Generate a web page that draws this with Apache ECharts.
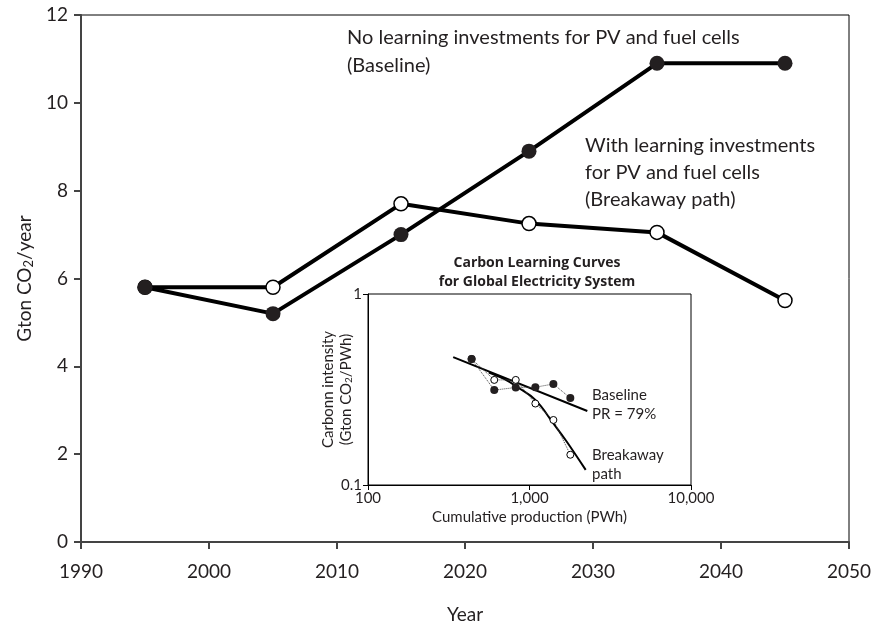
<!DOCTYPE html>
<html>
<head>
<meta charset="utf-8">
<script src="https://cdn.jsdelivr.net/npm/echarts@6/dist/echarts.min.js"></script>
<style>
  html, body { margin: 0; padding: 0; background: #fff; }
  #chart { width: 873px; height: 625px; }
</style>
</head>
<body>
<div id="chart"></div>
<script>
// Annual emissions, Gton CO2/year
const years = [1995, 2005, 2015, 2025, 2035, 2045];
const baselineEmissions = [5.8, 5.2, 7.0, 8.9, 10.9, 10.9];
const breakawayEmissions = [5.8, 5.8, 7.7, 7.25, 7.05, 5.5];

// Inset: carbon intensity vs. cumulative production (PWh, Gton CO2/PWh)
const baselineProduction = [438, 605, 822, 1087, 1406, 1790];
const baselineIntensity = [0.457, 0.314, 0.324, 0.325, 0.338, 0.285];
const breakawayProduction = [438, 605, 822, 1087, 1406, 1790];
const breakawayIntensity = [0.457, 0.355, 0.355, 0.267, 0.219, 0.144];
// Fitted learning curves
const baselineFitProduction = [337, 2280];
const baselineFitIntensity = [0.467, 0.244];
const breakawayFitProduction = [560, 700, 834, 1087, 1406, 1698, 2228];
const breakawayFitIntensity = [0.388, 0.358, 0.327, 0.279, 0.210, 0.169, 0.120];

const FONT = 'Lato, "Open Sans", sans-serif';
const pairs = (xs, ys) => xs.map((x, i) => [x, ys[i]]);

const chart = echarts.init(document.getElementById('chart'));

chart.setOption({
  animation: false,
  backgroundColor: '#fff',
  textStyle: { fontFamily: FONT, color: '#231f20' },
  grid: [
    { left: 81, top: 15, right: 24, bottom: 83, show: true, borderColor: '#000', borderWidth: 1, outerBoundsMode: 'none' },
    { left: 368, top: 294, width: 323, height: 191, show: true, borderColor: '#000', borderWidth: 1, backgroundColor: '#fff', outerBoundsMode: 'none' }
  ],
  xAxis: [
    {
      gridIndex: 0, type: 'value', min: 1990, max: 2050, interval: 10,
      name: 'Year', nameLocation: 'middle', nameGap: 63,
      nameTextStyle: { fontSize: 19, color: '#231f20', fontFamily: FONT },
      axisLine: { lineStyle: { color: '#444', width: 2 } },
      axisTick: { length: 7, lineStyle: { color: '#444', width: 2 } },
      axisLabel: { fontSize: 19, margin: 20, color: '#231f20', formatter: v => String(v) },
      splitLine: { show: false }
    },
    {
      gridIndex: 1, type: 'log', logBase: 10, min: 100, max: 10000,
      name: 'Cumulative production (PWh)', nameLocation: 'middle', nameGap: 25,
      nameTextStyle: { fontSize: 15, color: '#231f20', fontFamily: FONT },
      axisLine: { lineStyle: { color: '#000', width: 1 } },
      axisTick: { length: 5, lineStyle: { color: '#000' } },
      minorTick: { show: false },
      axisLabel: { fontSize: 15, margin: 6, color: '#231f20', formatter: v => Number(v).toLocaleString('en-US') },
      splitLine: { show: false }
    }
  ],
  yAxis: [
    {
      gridIndex: 0, type: 'value', min: 0, max: 12, interval: 2,
      name: '{a|Gton CO}{s|2}{a|/year}', nameLocation: 'middle', nameGap: 46, nameRotate: 90,
      nameTextStyle: {
        rich: {
          a: { fontSize: 19, color: '#231f20', fontFamily: FONT },
          s: { fontSize: 13, color: '#231f20', fontFamily: FONT, padding: [8, 0, 0, 0] }
        }
      },
      axisLine: { lineStyle: { color: '#444', width: 2 } },
      axisTick: { length: 7, lineStyle: { color: '#444', width: 2 } },
      axisLabel: { fontSize: 19, margin: 13, color: '#231f20' },
      splitLine: { show: false }
    },
    {
      gridIndex: 1, type: 'log', logBase: 10, min: 0.1, max: 1,
      name: '{a|Carbonn intensity}\n{a|(Gton CO}{s|2}{a|/PWh)}', nameLocation: 'middle', nameGap: 13, nameRotate: 90,
      nameMoveOverlap: false,
      nameTextStyle: {
        rich: {
          a: { fontSize: 15, color: '#231f20', fontFamily: FONT, lineHeight: 18 },
          s: { fontSize: 10, color: '#231f20', fontFamily: FONT, padding: [6, 0, 0, 0] }
        }
      },
      axisLine: { lineStyle: { color: '#000', width: 1 } },
      axisTick: { length: 5, lineStyle: { color: '#000' } },
      minorTick: { show: false },
      axisLabel: { fontSize: 15, margin: 6, color: '#231f20' },
      splitLine: { show: false }
    }
  ],
  series: [
    {
      name: 'Breakaway path', type: 'line', xAxisIndex: 0, yAxisIndex: 0, z: 2,
      data: pairs(years, breakawayEmissions),
      lineStyle: { color: '#000', width: 4 },
      symbol: 'circle', symbolSize: 14,
      itemStyle: { color: '#fff', borderColor: '#000', borderWidth: 1.5 }
    },
    {
      name: 'Baseline', type: 'line', xAxisIndex: 0, yAxisIndex: 0, z: 3,
      data: pairs(years, baselineEmissions),
      lineStyle: { color: '#000', width: 4 },
      symbol: 'circle', symbolSize: 15,
      itemStyle: { color: '#231f20', borderColor: '#000', borderWidth: 0 }
    },
    {
      name: 'Baseline fit', type: 'line', xAxisIndex: 1, yAxisIndex: 1, z: 3,
      data: pairs(baselineFitProduction, baselineFitIntensity),
      lineStyle: { color: '#000', width: 2 }, symbol: 'none'
    },
    {
      name: 'Breakaway fit', type: 'line', xAxisIndex: 1, yAxisIndex: 1, z: 3, smooth: 0.4,
      data: pairs(breakawayFitProduction, breakawayFitIntensity),
      lineStyle: { color: '#000', width: 2 }, symbol: 'none'
    },
    {
      name: 'Breakaway points', type: 'line', xAxisIndex: 1, yAxisIndex: 1, z: 4,
      data: pairs(breakawayProduction, breakawayIntensity),
      lineStyle: { color: '#444', width: 1, type: 'dotted' },
      symbol: 'circle', symbolSize: 7,
      itemStyle: { color: '#fff', borderColor: '#000', borderWidth: 1 }
    },
    {
      name: 'Baseline points', type: 'line', xAxisIndex: 1, yAxisIndex: 1, z: 5,
      data: pairs(baselineProduction, baselineIntensity),
      lineStyle: { color: '#444', width: 1, type: 'dotted' },
      symbol: 'circle', symbolSize: 8,
      itemStyle: { color: '#231f20', borderWidth: 0 }
    }
  ],
  graphic: [
    { type: 'text', left: 347, top: 24, style: { text: 'No learning investments for PV and fuel cells\n(Baseline)', font: '20px ' + FONT, fill: '#231f20', lineHeight: 28 } },
    { type: 'text', left: 585, top: 132, style: { text: 'With learning investments\nfor PV and fuel cells\n(Breakaway path)', font: '20px ' + FONT, fill: '#231f20', lineHeight: 27 } },
    { type: 'text', x: 537, y: 254, style: { text: 'Carbon Learning Curves\nfor Global Electricity System', font: 'bold 14px "Open Sans", sans-serif', fill: '#231f20', align: 'center', textAlign: 'center', lineHeight: 19 } },
    { type: 'text', left: 592, top: 386, z: 10, style: { text: 'Baseline\nPR = 79%', font: '15px ' + FONT, fill: '#231f20', lineHeight: 19 } },
    { type: 'text', left: 592, top: 446, z: 10, style: { text: 'Breakaway\npath', font: '15px ' + FONT, fill: '#231f20', lineHeight: 19 } }
  ]
});
</script>
</body>
</html>
